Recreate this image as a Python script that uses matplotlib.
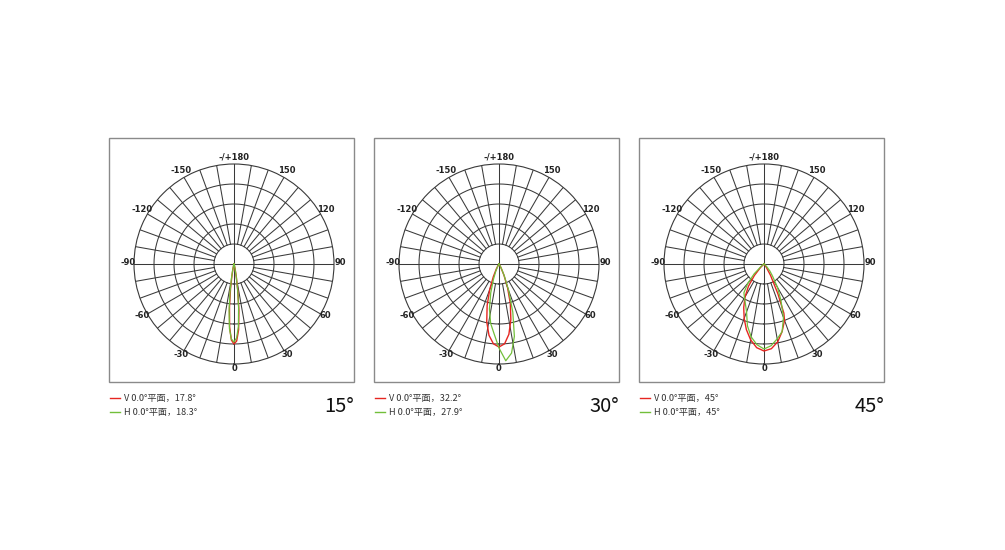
import numpy as np
import matplotlib
matplotlib.use("Agg")
import matplotlib.pyplot as plt
from matplotlib.patches import Rectangle
from matplotlib.transforms import offset_copy

plt.rcParams['font.family'] = ['Noto Sans CJK SC', 'DejaVu Sans']

# relative intensity (outer ring = 100) against angle in degrees
# 15 degree lens
ang_v15 = [-20, -16, -14, -12, -10, -8, -6, -4, -2, 0, 2, 4, 6, 8, 10, 12, 14, 16, 20]
val_v15 = [0, 0.5, 2, 5, 12, 25, 43, 63, 76, 80, 77, 66, 47, 28, 14, 6, 2, 0.5, 0]
ang_h15 = [-20, -16, -14, -12, -10, -8, -6, -4, -2, 0, 2, 4, 6, 8, 10, 12, 14, 16, 20]
val_h15 = [0, 0.8, 2.5, 7, 15, 29, 47, 65, 75, 78, 74, 63, 44, 26, 13, 5, 2, 0.5, 0]

# 30 degree lens
ang_v30 = [-40, -32, -28, -24, -20, -16, -12, -8, -4, 0, 4, 8, 12, 16, 20, 24, 28, 32, 40]
val_v30 = [0, 2, 6, 14, 27, 43, 59, 72, 80, 83, 80, 71, 57, 41, 25, 12, 4, 1, 0]
ang_h30 = [-40, -32, -28, -24, -20, -16, -12, -8, -4, 0, 4, 8, 12, 16, 20, 24, 28, 32, 40]
val_h30 = [0, 1, 3, 8, 16, 30, 46, 60, 70, 84, 97, 90, 74, 50, 28, 13, 5, 1.5, 0]

# 45 degree lens
ang_v45 = [-50, -45, -40, -35, -30, -25, -20, -15, -10, -5, 0, 5, 10, 15, 20, 22, 25, 30, 35, 40, 45]
val_v45 = [0, 5, 15, 27, 38, 48, 58, 68, 77, 84, 87, 85, 79, 70, 60, 53, 33, 13, 4, 1, 0]
ang_h45 = [-55, -50, -45, -40, -35, -30, -25, -20, -15, -10, -5, 0, 5, 10, 15, 20, 25, 30, 35, 40, 45, 50, 55]
val_h45 = [0, 4, 14, 25, 35, 39, 44, 51, 64, 74, 81, 85, 82, 76, 70, 57, 40, 27, 15, 9, 4, 1, 0]

titles = ['15°', '30°', '45°']
legend_v = ['V 0.0°平面，17.8°', 'V 0.0°平面，32.2°', 'V 0.0°平面，45°']
legend_h = ['H 0.0°平面，18.3°', 'H 0.0°平面，27.9°', 'H 0.0°平面，45°']
tick_deg = [0, 30, 60, 90, 120, 150, 180, -150, -120, -90, -60, -30]

curves = [
    ((ang_v15, val_v15), (ang_h15, val_h15)),
    ((ang_v30, val_v30), (ang_h30, val_h30)),
    ((ang_v45, val_v45), (ang_h45, val_h45)),
]

RED = '#e62621'
GREEN = '#72bf3a'
GRID = '#3a3a3a'

W, H = 1005, 550
fig = plt.figure(figsize=(W / 100, H / 100), dpi=100)
fig.patch.set_facecolor('white')

# overlay in pixel coordinates for boxes and legends
base = fig.add_axes([0, 0, 1, 1])
base.set_xlim(0, W)
base.set_ylim(H, 0)
base.axis('off')

box_x = [109, 374, 639]
box_w, box_top, box_h = 245, 138, 244
R = 100  # outer ring radius in px

for i in range(3):
    bx = box_x[i]
    base.add_patch(Rectangle((bx, box_top), box_w, box_h, fill=False,
                             edgecolor='#8a8a8a', lw=1.0))

    cx, cy = bx + 125, 264
    ax = fig.add_axes([(cx - R) / W, (H - cy - R) / H, 2 * R / W, 2 * R / H],
                      projection='polar')
    ax.set_facecolor('none')
    ax.set_theta_zero_location('S')
    ax.set_theta_direction(1)

    # grid: rings and spokes, spokes start at the inner ring
    t = np.linspace(0, 2 * np.pi, 721)
    for r in [20, 40, 60, 80]:
        ax.plot(t, np.full_like(t, r), color=GRID, lw=0.75)
    for d in range(0, 360, 10):
        th = np.radians(d)
        r0 = 0 if d % 90 == 0 else 20
        ax.plot([th, th], [r0, 100], color=GRID, lw=0.75)

    (av, vv), (ah, vh) = curves[i]
    ax.plot(np.radians(av), vv, color=RED, lw=1.0)
    ax.plot(np.radians(ah), vh, color=GREEN, lw=0.9)

    ax.set_ylim(0, 100)
    ax.set_xticks([])
    ax.set_yticks([])
    ax.grid(False)
    ax.spines['polar'].set_color(GRID)
    ax.spines['polar'].set_linewidth(0.8)

    lab_tr = offset_copy(ax.transData, fig=fig, x=0, y=1.5, units='dots')
    for d in tick_deg:
        lab = '-/+180' if d == 180 else str(d)
        ax.text(np.radians(d), 106, lab, ha='center', va='center',
                fontsize=6, fontweight='bold', color='#222222',
                family='DejaVu Sans', clip_on=False, transform=lab_tr)

    # legend
    lx = bx + 1
    base.plot([lx, lx + 10], [398, 398], color=RED, lw=1.0)
    base.plot([lx, lx + 10], [412, 412], color=GREEN, lw=1.0)
    base.text(lx + 14, 398, legend_v[i], ha='left', va='center',
              fontsize=6.6, color='#333333')
    base.text(lx + 14, 412, legend_h[i], ha='left', va='center',
              fontsize=6.6, color='#333333')

    base.text(bx + box_w, 406, titles[i], ha='right', va='center',
              fontsize=14.5, color='#111111')

fig.savefig('out.png', dpi=100, facecolor='white')
